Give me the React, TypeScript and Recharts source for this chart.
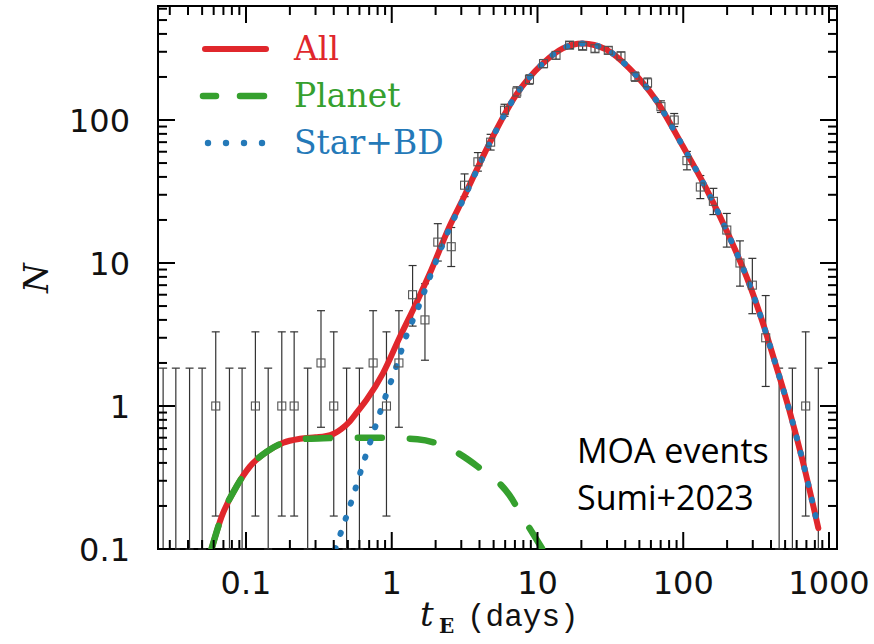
import React from 'react';
import {
  ComposedChart,
  Line,
  Scatter,
  ErrorBar,
  XAxis,
  YAxis,
  Legend,
  Customized,
} from 'recharts';

// axis ranges (log-log)
const X_MIN = 0.0249;
const X_MAX = 1135;
const Y_MIN = 0.1;
const Y_MAX = 627;

// binned MOA events: t_E bin centres (days), counts, 1-sigma Poisson errors
const binT = [
  0.027, 0.033, 0.041, 0.05, 0.062, 0.077, 0.094, 0.116, 0.142, 0.176,
  0.214, 0.265, 0.327, 0.4, 0.49, 0.6, 0.745, 0.92, 1.12, 1.39,
  1.69, 2.07, 2.56, 3.16, 3.9, 4.77, 5.94, 7.21, 8.81, 11.0,
  13.4, 16.6, 20.4, 24.8, 30.6, 37.4, 46.7, 56.9, 70.3, 86.7,
  106, 131, 161, 199, 245, 298, 368, 455, 561, 692, 845,
];
const counts = [
  0, 0, 0, 0, 1, 0, 0, 1, 0, 1,
  1, 0, 2, 1, 0, 0, 2, 1, 2, 6,
  4, 14, 13, 35, 51, 70, 117, 157, 192, 248,
  283, 334, 328, 315, 307, 281, 201, 182, 124, 100,
  52, 34, 27, 17, 10, 7, 3, 0, 0, 1, 0,
];
const errUp = [
  1.84, 1.84, 1.84, 1.84, 2.3, 1.84, 1.84, 2.3, 1.84, 2.3,
  2.3, 1.84, 2.64, 2.3, 1.84, 1.84, 2.64, 2.3, 2.64, 3.6,
  3.16, 4.84, 4.71, 6.98, 8.19, 9.41, 11.86, 13.56, 14.89, 16.78,
  17.85, 19.3, 19.13, 18.78, 18.55, 17.78, 15.21, 14.52, 12.17, 11.04,
  8.26, 6.9, 6.27, 5.21, 4.28, 3.78, 2.92, 1.84, 1.84, 2.3, 1.84,
];
const errDown = [
  0, 0, 0, 0, 0.83, 0, 0, 0.83, 0, 0.83,
  0.83, 0, 1.29, 0.83, 0, 0, 1.29, 0.83, 1.29, 2.38,
  1.91, 3.68, 3.55, 5.89, 7.11, 8.35, 10.8, 12.5, 13.9, 15.7,
  16.8, 18.3, 18.1, 17.7, 17.5, 16.8, 14.2, 13.5, 11.1, 9.99,
  7.18, 5.8, 5.18, 4.08, 3.11, 2.58, 1.63, 0, 0, 0.83, 0,
];

// model curves
const allT = [
  0.058, 0.068, 0.086, 0.106, 0.139, 0.18, 0.234, 0.3, 0.35, 0.4,
  0.45, 0.515, 0.58, 0.67, 0.87, 1.13, 1.48, 1.82, 2.49, 3.08,
  4.69, 7.14, 10.9, 14.9, 20.4, 29.5, 42.7, 65, 99, 143,
  207, 283, 349, 431, 532, 657, 845,
];
const allN = [
  0.1, 0.168, 0.273, 0.376, 0.48, 0.554, 0.59, 0.605, 0.615, 0.64,
  0.69, 0.78, 0.91, 1.1, 1.69, 3.0, 5.3, 8.4, 18, 28,
  69, 150, 249, 317, 343, 312, 230, 138, 66, 33.5,
  15.3, 7.2, 3.9, 1.95, 0.95, 0.42, 0.14,
];
const planetT = [0.058, 0.068, 0.086, 0.106, 0.139, 0.18, 0.234, 0.339, 0.5, 0.87, 1.5, 2.24, 3.9, 6.4, 7.9, 10.8];
const planetN = [0.1, 0.168, 0.273, 0.376, 0.48, 0.554, 0.585, 0.595, 0.6, 0.6, 0.585, 0.53, 0.376, 0.239, 0.168, 0.1];
const starT = [
  0.41, 0.452, 0.535, 0.63, 0.745, 0.885, 1.06, 1.26, 1.51, 1.82,
  2.49, 3.08, 4.69, 7.14, 10.9, 14.9, 20.4, 29.5, 42.7, 65,
  99, 143, 207, 283, 349, 431, 532, 657, 845,
];
const starN = [
  0.1, 0.134, 0.223, 0.383, 0.644, 1.09, 1.81, 3.1, 4.8, 7.9,
  17.5, 27.5, 68.5, 150, 249, 317, 343, 312, 230, 138,
  66, 33.5, 15.3, 7.2, 3.9, 1.95, 0.95, 0.42, 0.14,
];

// ticks
const xMajor = [0.1, 1, 10, 100, 1000];
const xMajorLabels = ['0.1', '1', '10', '100', '1000'];
const xMinor = [
  0.03, 0.04, 0.05, 0.06, 0.07, 0.08, 0.09,
  0.2, 0.3, 0.4, 0.5, 0.6, 0.7, 0.8, 0.9,
  2, 3, 4, 5, 6, 7, 8, 9,
  20, 30, 40, 50, 60, 70, 80, 90,
  200, 300, 400, 500, 600, 700, 800, 900,
];
const yMajor = [0.1, 1, 10, 100];
const yMajorLabels = ['0.1', '1', '10', '100'];
const yMinor = [
  0.2, 0.3, 0.4, 0.5, 0.6, 0.7, 0.8, 0.9,
  2, 3, 4, 5, 6, 7, 8, 9,
  20, 30, 40, 50, 60, 70, 80, 90,
  200, 300, 400, 500, 600,
];

const legendItems = [
  { name: 'All', color: '#e0272c', kind: 'solid' },
  { name: 'Planet', color: '#35a02e', kind: 'dash' },
  { name: 'Star+BD', color: '#2479b8', kind: 'dot' },
];

const W = 874;
const H = 644;
const PLOT_LEFT = 158;
const PLOT_TOP = 6;
const PLOT_RIGHT = 837;
const PLOT_BOTTOM = 549;
const PLOT_W = PLOT_RIGHT - PLOT_LEFT;
const PLOT_H = PLOT_BOTTOM - PLOT_TOP;

const toPoints = (xs: number[], ys: number[]) => xs.map((x, i) => ({ x, y: ys[i] }));

const allData = toPoints(allT, allN);
const planetData = toPoints(planetT, planetN);
const starData = toPoints(starT, starN);

// empty bins are drawn as upper limits from the bottom of the frame
const binData = binT.map((x, i) => {
  const n = counts[i];
  return {
    x,
    y: n > 0 ? n : Y_MIN,
    n,
    err: n > 0 ? [errDown[i], errUp[i]] : [0, errUp[i] - Y_MIN],
  };
});

function XTick(props: any) {
  const { x, y, payload } = props;
  const i = xMajor.indexOf(payload.value);
  const len = i >= 0 ? 17 : 9;
  const top = y - PLOT_H;
  return (
    <g>
      <line x1={x} x2={x} y1={y} y2={y - len} stroke="#000" strokeWidth={2} />
      <line x1={x} x2={x} y1={top} y2={top + len} stroke="#000" strokeWidth={2} />
      {i >= 0 && (
        <text x={x} y={y + 45} textAnchor="middle" fontFamily="DejaVu Sans" fontSize={32} fill="#111">
          {xMajorLabels[i]}
        </text>
      )}
    </g>
  );
}

function YTick(props: any) {
  const { x, y, payload } = props;
  const i = yMajor.indexOf(payload.value);
  const len = i >= 0 ? 17 : 9;
  const right = x + PLOT_W;
  return (
    <g>
      <line x1={x} x2={x + len} y1={y} y2={y} stroke="#000" strokeWidth={2} />
      <line x1={right} x2={right - len} y1={y} y2={y} stroke="#000" strokeWidth={2} />
      {i >= 0 && (
        <text x={x - 28} y={y + 12} textAnchor="end" fontFamily="DejaVu Sans" fontSize={32} fill="#111">
          {yMajorLabels[i]}
        </text>
      )}
    </g>
  );
}

function BinMarker(props: any) {
  const { cx, cy, payload } = props;
  if (!payload || payload.n === 0) return <g />;
  return <rect x={cx - 4} y={cy - 4} width={8} height={8} fill="none" stroke="#555" strokeWidth={1.1} />;
}

function LegendBox() {
  return (
    <svg width={290} height={160}>
      {legendItems.map((item, i) => {
        const cy = 29 + i * 47;
        let sample;
        if (item.kind === 'solid') {
          sample = <line x1={15} x2={76} y1={cy} y2={cy} stroke={item.color} strokeWidth={6} strokeLinecap="round" />;
        } else if (item.kind === 'dash') {
          sample = (
            <g stroke={item.color} strokeWidth={6.5} strokeLinecap="round">
              <line x1={13} x2={26} y1={cy} y2={cy} />
              <line x1={50} x2={74} y1={cy} y2={cy} />
            </g>
          );
        } else {
          sample = (
            <g fill={item.color}>
              {[18, 36, 54, 72].map((cx) => (
                <circle key={cx} cx={cx} cy={cy} r={3.2} />
              ))}
            </g>
          );
        }
        return (
          <g key={item.name}>
            {sample}
            <text x={104} y={cy + 11} fontFamily="DejaVu Serif" fontSize={33} fill={item.color}>
              {item.name}
            </text>
          </g>
        );
      })}
    </svg>
  );
}

function Decorations() {
  return (
    <g>
      <rect x={PLOT_LEFT} y={PLOT_TOP} width={PLOT_W} height={PLOT_H} fill="none" stroke="#000" strokeWidth={2} />
      <text transform="translate(48, 278) rotate(-90)" textAnchor="middle" fontFamily="DejaVu Serif" fontStyle="italic" fontSize={34} fill="#111">
        N
      </text>
      <text x={420} y={626} fontFamily="DejaVu Serif" fontStyle="italic" fontSize={34} fill="#111">t</text>
      <text x={439} y={633} fontFamily="DejaVu Serif" fontWeight="bold" fontSize={20} fill="#111">E</text>
      <text x={467} y={626} fontFamily="Liberation Mono" fontSize={31} fill="#111">(days)</text>
      <text x={577} y={463} fontFamily="Open Sans" fontSize={34} fill="#000">MOA events</text>
      <text x={577} y={510} fontFamily="Open Sans" fontSize={34} fill="#000">Sumi+2023</text>
    </g>
  );
}

export default function App() {
  return (
    <div style={{ position: 'absolute', left: 0, top: 0, width: W, height: H, background: '#fff' }}>
      <ComposedChart
        width={W}
        height={H}
        margin={{ top: PLOT_TOP, right: W - PLOT_RIGHT, bottom: 0, left: 0 }}
      >
        <XAxis
          dataKey="x"
          type="number"
          scale="log"
          domain={[X_MIN, X_MAX]}
          allowDataOverflow
          ticks={[...xMajor, ...xMinor]}
          interval={0}
          tick={<XTick />}
          tickSize={0}
          tickMargin={0}
          tickLine={false}
          axisLine={false}
          height={H - PLOT_BOTTOM}
        />
        <YAxis
          dataKey="y"
          type="number"
          scale="log"
          domain={[Y_MIN, Y_MAX]}
          allowDataOverflow
          ticks={[...yMajor, ...yMinor]}
          interval={0}
          tick={<YTick />}
          tickSize={0}
          tickMargin={0}
          tickLine={false}
          axisLine={false}
          width={PLOT_LEFT}
        />
        <Scatter data={binData} dataKey="y" shape={<BinMarker />} isAnimationActive={false}>
          <ErrorBar dataKey="err" direction="y" width={4} stroke="#333" strokeWidth={1.2} isAnimationActive={false} />
        </Scatter>
        <Line
          data={allData}
          dataKey="y"
          type="monotone"
          stroke="#e0272c"
          strokeWidth={6}
          strokeLinecap="round"
          dot={false}
          activeDot={false}
          isAnimationActive={false}
        />
        <Line
          data={planetData}
          dataKey="y"
          type="monotone"
          stroke="#35a02e"
          strokeWidth={6.5}
          strokeDasharray="24 28"
          strokeLinecap="round"
          dot={false}
          activeDot={false}
          isAnimationActive={false}
        />
        <Line
          data={starData}
          dataKey="y"
          type="monotone"
          stroke="#2479b8"
          strokeWidth={6}
          strokeDasharray="1 15"
          strokeLinecap="round"
          dot={false}
          activeDot={false}
          isAnimationActive={false}
        />
        <Legend
          layout="vertical"
          align="center"
          verticalAlign="middle"
          wrapperStyle={{ left: 190, top: 20, width: 290, height: 160 }}
          content={() => <LegendBox />}
        />
        <Customized component={Decorations} />
      </ComposedChart>
    </div>
  );
}
